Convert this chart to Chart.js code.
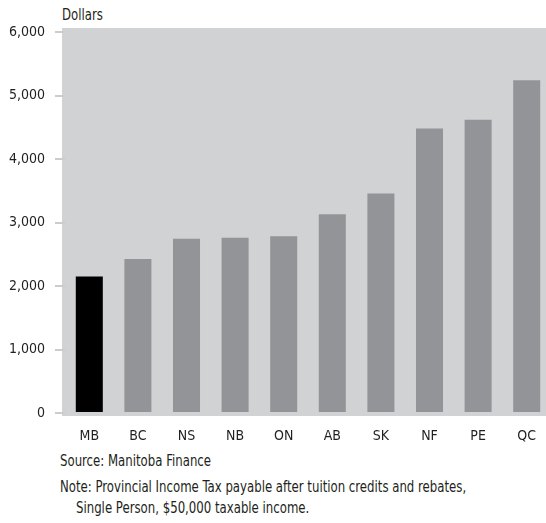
<!DOCTYPE html>
<html>
<head>
<meta charset="utf-8">
<script src="https://cdn.jsdelivr.net/npm/chart.js@4/dist/chart.umd.min.js"></script>
<style>
  html, body { margin: 0; padding: 0; background: #fff; overflow: hidden; }
  #wrap { position: relative; width: 546px; height: 523px; overflow: hidden; font-family: 'Liberation Sans Narrow', 'DejaVu Sans Condensed', sans-serif; color: #231f20; }
  #chart-box { position: absolute; left: 0; top: 0; width: 551px; height: 450px; }
  .txt { position: absolute; font-size: 15px; white-space: nowrap; transform: scaleX(0.87); transform-origin: left top; }
</style>
</head>
<body>
<div id="wrap">
  <div class="txt" style="left:62px; top:6px;">Dollars</div>
  <div id="chart-box"><canvas id="tax-chart"></canvas></div>
  <div class="txt" style="left:60px; top:452px;">Source: Manitoba Finance</div>
  <div class="txt" style="left:60px; top:478px;">Note: Provincial Income Tax payable after tuition credits and rebates,</div>
  <div class="txt" style="left:76px; top:499px;">Single Person, $50,000 taxable income.</div>
</div>
<script>
// ── Data ───────────────────────────────────────────────────────────────
const provinces = ['MB', 'BC', 'NS', 'NB', 'ON', 'AB', 'SK', 'NF', 'PE', 'QC'];
const taxPayable = [2150, 2425, 2745, 2760, 2785, 3130, 3455, 4480, 4620, 5240];
const yTicks = [0, 1000, 2000, 3000, 4000, 5000, 6000];

const font = "'Liberation Sans Narrow', 'DejaVu Sans Condensed', sans-serif";

// grey plot background (starts a few px left of the bar area)
const plotBg = {
    id: 'plotBg',
    beforeDraw(chart) {
        const { ctx, chartArea: a } = chart;
        ctx.save();
        ctx.fillStyle = '#d1d2d4';
        ctx.fillRect(a.left - 3, a.top, a.right - a.left + 3, a.bottom - a.top);
        ctx.restore();
    }
};

new Chart(document.getElementById('tax-chart'), {
    type: 'bar',
    data: {
        labels: provinces,
        datasets: [{
            data: taxPayable,
            backgroundColor: provinces.map(p => p === 'MB' ? '#000000' : '#939497'),
            borderWidth: 0,
            categoryPercentage: 1,
            barPercentage: 0.556
        }]
    },
    options: {
        responsive: true, maintainAspectRatio: false, animation: false,
        layout: { padding: { top: 28, right: 0, left: 0, bottom: 0 } },
        plugins: { legend: { display: false }, tooltip: { enabled: false } },
        scales: {
            x: {
                grid: { display: false },
                border: { display: false },
                ticks: { color: '#231f20', font: { family: font, size: 14 }, padding: 4 },
                afterFit: s => { s.height = 34; }
            },
            y: {
                min: -47, max: 6063,
                afterBuildTicks: s => { s.ticks = yTicks.map(v => ({ value: v })); },
                grid: { drawOnChartArea: false, drawTicks: true, tickLength: 10, color: '#cbcccd', lineWidth: 2 },
                border: { display: false },
                ticks: {
                    color: '#231f20', font: { family: font, size: 14 }, padding: 10,
                    callback: v => Number(v).toLocaleString('en-US')
                },
                afterFit: s => { s.width = 65; }
            }
        }
    },
    plugins: [plotBg]
});
</script>
</body>
</html>
